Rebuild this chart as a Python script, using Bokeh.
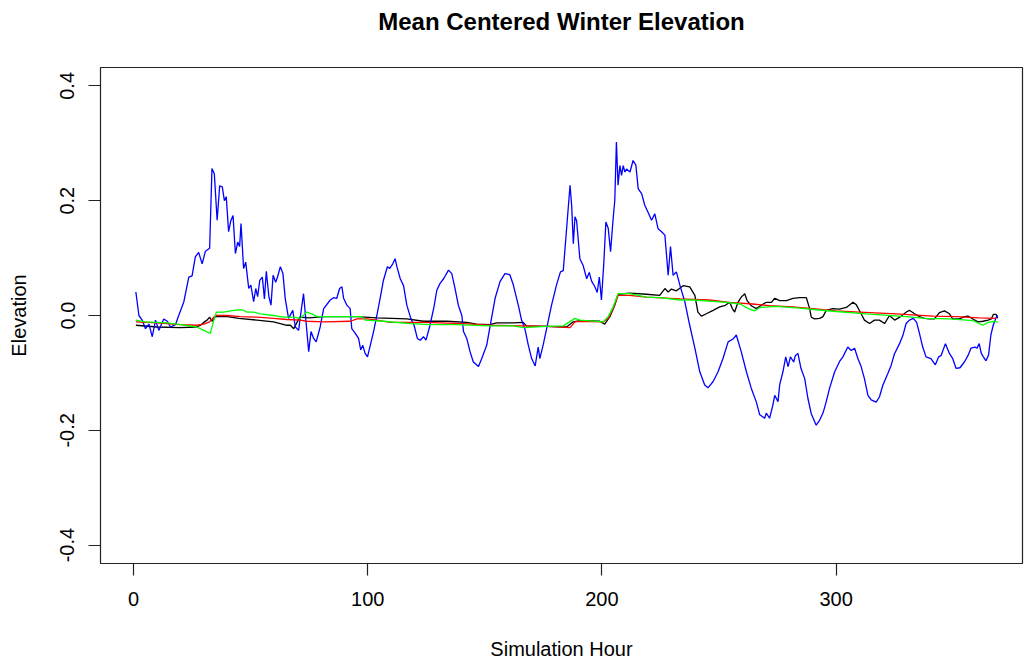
from bokeh.plotting import figure
from bokeh.models import Range1d, FixedTicker, Title
from bokeh.embed import file_html
from bokeh.resources import INLINE

# Simulation hour / mean-centered elevation for each series
blue_hour = [1, 2.3, 3.7, 5.1, 6.6, 8, 9.4, 10.8, 12.9, 14.4, 15.8, 17.9, 19.3, 21.5, 23.6, 25, 26.4, 27.8, 29.3, 30.7,
             32.5, 33.5, 34.5, 35.7, 36.8, 37.9, 38.8, 39.6, 40.6, 41.6, 42.5, 43.5, 44.5, 45.3, 45.9, 47, 47.9, 49.2,
             50.1, 51.3, 52.2, 53, 53.9, 55, 55.9, 56.7, 57.8, 58.7, 59.6, 60.7, 61.5, 62.7, 63.8, 64.8, 66.2, 68,
             69.1, 70.5, 71.5, 72.6, 73.2, 74.8, 75.8, 76.9, 78, 79.7, 81.2, 84, 85.4, 86.8, 88, 89, 89.7, 91.1, 92.5,
             93.2, 94.7, 96.1, 97, 97.9, 98.9, 99.9, 101.1, 102.5, 103.9, 105.3, 106.7, 108.4, 109.4, 110.7, 111.7,
             112.4, 113.9, 115.3, 116.7, 118.4, 119.8, 121.2, 122.4, 123.8, 124.9, 126.6, 128.3, 129.5, 130.9, 132.4,
             134.5, 135.9, 137.3, 138.7, 140.2, 140.9, 142.3, 143.7, 145.1, 147.3, 148.7, 150.8, 152.2, 154.4, 156.5,
             158.6, 160.7, 162.2, 164.3, 165.7, 167.1, 168.6, 170, 171.5, 172.8, 173.5, 175, 176.4, 178.5, 180.6,
             182.3, 183.5, 184.6, 185.6, 186.4, 187.1, 187.8, 188.5, 189.2, 190.6, 192, 193.5, 194.6, 195.6, 197, 198,
             198.9, 199.8, 200.8, 201.7, 202.7, 203.7, 204.8, 205.5, 206.2, 206.9, 207.7, 208.4, 209.1, 209.8, 210.5,
             212, 213.3, 214.5, 215.5, 217, 218.3, 219.7, 221.2, 222.6, 224, 225.5, 226.9, 228.3, 229.3, 230.4, 231.8,
             233.3, 235.4, 237.5, 239.7, 241.8, 243.9, 245.3, 247.5, 249.6, 251.7, 253.9, 256, 257.4, 259.5, 261.7,
             263.8, 265.9, 267.4, 269.5, 270.2, 271.6, 273, 273.8, 275.2, 275.9, 277.3, 278.5, 279.5, 280.5, 281.9,
             282.6, 283.7, 285, 286.6, 288, 289.4, 291.5, 292.9, 294.4, 295.8, 297.2, 299.4, 301.5, 302.9, 305, 306.5,
             307.9, 309.3, 310.7, 312.1, 313.6, 315, 317.1, 318.5, 320, 322.1, 323.5, 324.9, 327.1, 328.5, 329.9,
             331.3, 333, 334.4, 335.6, 337, 338.4, 340.5, 342.4, 343.8, 344.8, 346.7, 348.4, 349.8, 351.2, 352.9,
             354.8, 356.3, 357.6, 359.3, 360.2, 361.1, 362, 362.9, 364, 365.1, 366.1, 367.1, 368.3, 369]
blue_elev = [0.041, 0.0, -0.008, -0.023, -0.015, -0.037, -0.008, -0.026, -0.006, -0.01, -0.02, -0.016, 0.0, 0.024,
             0.067, 0.069, 0.102, 0.11, 0.09, 0.112, 0.117, 0.256, 0.247, 0.166, 0.226, 0.224, 0.2, 0.207, 0.146,
             0.166, 0.174, 0.108, 0.128, 0.12, 0.16, 0.082, 0.093, 0.047, 0.053, 0.024, 0.047, 0.033, 0.061, 0.067,
             0.029, 0.077, 0.033, 0.018, 0.07, 0.058, 0.067, 0.085, 0.073, 0.029, -0.005, 0.009, -0.02, -0.026, 0.006,
             0.038, 0.01, -0.063, -0.028, -0.04, -0.046, -0.02, 0.012, 0.027, 0.031, 0.03, 0.047, 0.05, 0.03, 0.018,
             0.012, -0.023, -0.031, -0.04, -0.06, -0.052, -0.066, -0.072, -0.052, -0.028, 0.0, 0.03, 0.061, 0.085,
             0.082, 0.09, 0.099, 0.086, 0.064, 0.052, 0.018, -0.005, -0.017, -0.04, -0.043, -0.037, -0.043, -0.017,
             0.015, 0.044, 0.056, 0.064, 0.079, 0.073, 0.047, 0.018, 0.0, -0.028, -0.04, -0.063, -0.081, -0.089,
             -0.075, -0.052, -0.02, 0.03, 0.059, 0.073, 0.071, 0.053, 0.018, -0.008, -0.023, -0.052, -0.075, -0.088,
             -0.055, -0.075, -0.05, -0.023, 0.018, 0.053, 0.076, 0.078, 0.134, 0.186, 0.227, 0.191, 0.125, 0.172,
             0.165, 0.099, 0.087, 0.064, 0.075, 0.06, 0.05, 0.04, 0.067, 0.027, 0.09, 0.163, 0.152, 0.111, 0.169, 0.2,
             0.302, 0.227, 0.261, 0.244, 0.261, 0.25, 0.255, 0.25, 0.27, 0.262, 0.221, 0.212, 0.192, 0.18, 0.166,
             0.177, 0.151, 0.146, 0.14, 0.07, 0.12, 0.07, 0.076, 0.053, 0.024, -0.017, -0.057, -0.098, -0.121, -0.126,
             -0.115, -0.098, -0.075, -0.046, -0.041, -0.034, -0.063, -0.098, -0.127, -0.15, -0.173, -0.179, -0.17,
             -0.179, -0.156, -0.139, -0.15, -0.121, -0.098, -0.072, -0.089, -0.072, -0.081, -0.07, -0.066, -0.092,
             -0.11, -0.145, -0.171, -0.191, -0.183, -0.17, -0.15, -0.127, -0.098, -0.08, -0.072, -0.055, -0.061,
             -0.057, -0.075, -0.089, -0.11, -0.139, -0.147, -0.151, -0.142, -0.121, -0.101, -0.087, -0.067, -0.049,
             -0.035, -0.014, -0.008, -0.005, -0.012, -0.031, -0.055, -0.072, -0.075, -0.086, -0.072, -0.07, -0.049,
             -0.066, -0.075, -0.092, -0.091, -0.081, -0.07, -0.057, -0.055, -0.057, -0.049, -0.066, -0.072, -0.079,
             -0.069, -0.034, -0.017, -0.004, 0.0]

black_hour = [1, 10, 20, 27, 28.6, 30, 31.4, 32.5, 33.5, 35, 40, 45, 52.7, 59.8, 65.5, 67, 68.4, 69.8, 71, 75, 81.2,
              95.4, 103.9, 116.7, 123.8, 133.8, 142.3, 146.5, 152.2, 155, 162.2, 166.4, 167.8, 176.4, 184.9, 187.8,
              190.6, 199.1, 201.2, 203.4, 205.5, 206.9, 211.9, 219, 224.7, 226.9, 228.3, 229.7, 231.8, 234.7, 237.5,
              239.7, 241, 242.5, 244.6, 247.5, 250.3, 252.4, 254.6, 255.7, 256.7, 258.1, 259.5, 261, 262, 263.8,
              265.9, 268.1, 270.2, 272.4, 273.8, 275.9, 278.8, 281.6, 284.4, 287.3, 288.7, 289.4, 290.8, 293, 294.4,
              295.8, 298.6, 301.5, 304.4, 307.2, 308.6, 310.7, 312.1, 314.3, 316.4, 318.5, 320.7, 322.8, 325, 327.9,
              330, 331.3, 333.5, 335.6, 337.7, 339.8, 342, 344.1, 346.3, 348.4, 349.8, 352.7, 354.8, 356.3, 358.4,
              360.6, 362.7, 364.9, 366.3, 367.2, 368.3, 369]
black_elev = [-0.017, -0.02, -0.021, -0.02, -0.017, -0.012, -0.008, -0.003, -0.01, -0.002, -0.002, -0.005, -0.008,
              -0.011, -0.017, -0.017, -0.023, -0.012, -0.003, -0.004, -0.002, -0.002, -0.004, -0.006, -0.01, -0.01,
              -0.012, -0.015, -0.016, -0.013, -0.013, -0.012, -0.018, -0.019, -0.02, -0.011, -0.009, -0.01, -0.015,
              -0.002, 0.018, 0.037, 0.039, 0.037, 0.035, 0.047, 0.041, 0.046, 0.043, 0.052, 0.05, 0.035, 0.006,
              -0.001, 0.003, 0.009, 0.015, 0.017, 0.023, 0.012, 0.006, 0.023, 0.032, 0.038, 0.026, 0.017, 0.012,
              0.018, 0.023, 0.023, 0.03, 0.026, 0.026, 0.03, 0.031, 0.031, 0.012, -0.003, -0.006, -0.005, -0.002,
              0.009, 0.012, 0.011, 0.014, 0.023, 0.019, 0.003, -0.008, -0.014, -0.008, -0.008, -0.014, 0.0, -0.008,
              -0.001, 0.006, 0.009, 0.003, -0.002, -0.005, -0.006, -0.006, 0.005, 0.008, 0.003, -0.006, -0.006,
              -0.002, -0.001, -0.006, -0.011, -0.01, -0.008, -0.006, 0.002, 0.002, -0.005]

red_hour = [1, 10, 20, 27, 30, 32.5, 35, 40, 45.6, 52.7, 59.8, 65.5, 71.2, 74, 81.2, 92.6, 95.4, 99.7, 103.9, 109.6,
            123.8, 140.9, 152.2, 166.4, 176.4, 186.4, 188.5, 190.6, 200.6, 202.7, 204.8, 206.9, 211.9, 219, 233.3,
            245.9, 254.4, 264.4, 271.6, 281.6, 290.1, 300.1, 310, 325.7, 341.5, 351.5, 361.2, 368.3]
red_elev = [-0.011, -0.013, -0.016, -0.017, -0.015, -0.011, 0.0, 0.0, -0.002, -0.003, -0.005, -0.007, -0.008, -0.01,
            -0.011, -0.01, -0.006, -0.006, -0.008, -0.012, -0.012, -0.014, -0.017, -0.018, -0.019, -0.021, -0.011,
            -0.01, -0.011, -0.005, 0.012, 0.035, 0.035, 0.032, 0.029, 0.027, 0.023, 0.02, 0.017, 0.015, 0.012, 0.008,
            0.006, 0.003, -0.001, -0.002, -0.004, -0.005]

green_hour = [1, 5, 14.4, 20, 27, 30, 32.8, 34.1, 35.4, 38.5, 42.8, 46.3, 48.5, 51.3, 54.1, 59.8, 64.1, 68.4, 71.2,
              74, 76.1, 78.3, 88.2, 97.5, 98.9, 106.7, 118.1, 126.6, 138, 152.2, 162.2, 166.4, 176.4, 183.5, 188.5,
              190.6, 200.6, 202.7, 204.8, 206.9, 211.9, 219, 224.7, 233.3, 239, 253.3, 259, 262.6, 265.2, 267.4,
              274.5, 284.4, 291.5, 300.1, 312.8, 329.9, 338.4, 348.4, 358.4, 362.7, 364.9, 367.8, 369]
green_elev = [-0.008, -0.011, -0.013, -0.016, -0.02, -0.026, -0.031, -0.011, 0.006, 0.006, 0.009, 0.01, 0.006, 0.006,
              0.003, 0.0, -0.003, -0.003, -0.005, 0.006, 0.003, -0.002, -0.002, -0.002, -0.008, -0.01, -0.014,
              -0.016, -0.016, -0.018, -0.018, -0.021, -0.019, -0.018, -0.005, -0.008, -0.011, -0.002, 0.015, 0.038,
              0.038, 0.032, 0.031, 0.027, 0.027, 0.023, 0.02, 0.012, 0.008, 0.014, 0.016, 0.013, 0.01, 0.007, 0.003,
              -0.002, -0.005, -0.006, -0.009, -0.017, -0.012, -0.01, -0.012]

x_ticks = [0, 100, 200, 300]
y_ticks = [-0.4, -0.2, 0.0, 0.2, 0.4]

FONT = "Liberation Sans"

p = figure(width=1025, height=662, output_backend="svg", toolbar_location=None,
           x_range=Range1d(-14.1, 379.6), y_range=Range1d(-0.432, 0.432),
           min_border_left=100, min_border_right=3, min_border_top=67, min_border_bottom=95,
           title_location=None)

p.background_fill_color = "white"
p.border_fill_color = "white"
p.outline_line_color = "#222222"
p.outline_line_width = 1.2
p.grid.visible = False

# blank band between the frame and the main title
p.add_layout(Title(text=" ", text_font_size="10px", standoff=15), "above")
p.add_layout(Title(text="Mean Centered Winter Elevation", text_font=FONT, text_font_size="24px",
                   text_font_style="bold", text_color="black", align="center", standoff=10), "above")

for ax in (p.xaxis[0], p.yaxis[0]):
    ax.axis_line_color = None
    ax.major_tick_in = 0
    ax.major_tick_out = 12
    ax.major_tick_line_color = "#222222"
    ax.major_tick_line_width = 1.2
    ax.minor_tick_line_color = None
    ax.major_label_text_font = FONT
    ax.major_label_text_font_size = "20px"
    ax.major_label_text_color = "black"
    ax.axis_label_text_font = FONT
    ax.axis_label_text_font_size = "20px"
    ax.axis_label_text_font_style = "normal"
    ax.axis_label_text_color = "black"

p.xaxis.ticker = FixedTicker(ticks=x_ticks)
p.yaxis.ticker = FixedTicker(ticks=y_ticks)
p.xaxis.axis_label = "Simulation Hour"
p.yaxis.axis_label = "Elevation"
p.xaxis.major_label_standoff = 16
p.xaxis.axis_label_standoff = 29
p.yaxis.major_label_orientation = "vertical"
p.yaxis.major_label_standoff = 14
p.yaxis.axis_label_standoff = 28
p.yaxis.major_label_overrides = {-0.4: "-0.4", -0.2: "-0.2", 0.0: "0.0", 0.2: "0.2", 0.4: "0.4"}

p.line(black_hour, black_elev, line_color="black", line_width=1.3)
p.line(blue_hour, blue_elev, line_color="#0000FF", line_width=1.3)
p.line(red_hour, red_elev, line_color="#FF0000", line_width=1.3)
p.line(green_hour, green_elev, line_color="#00FF00", line_width=1.3)

open("out.html", "w").write(file_html(p, INLINE))
